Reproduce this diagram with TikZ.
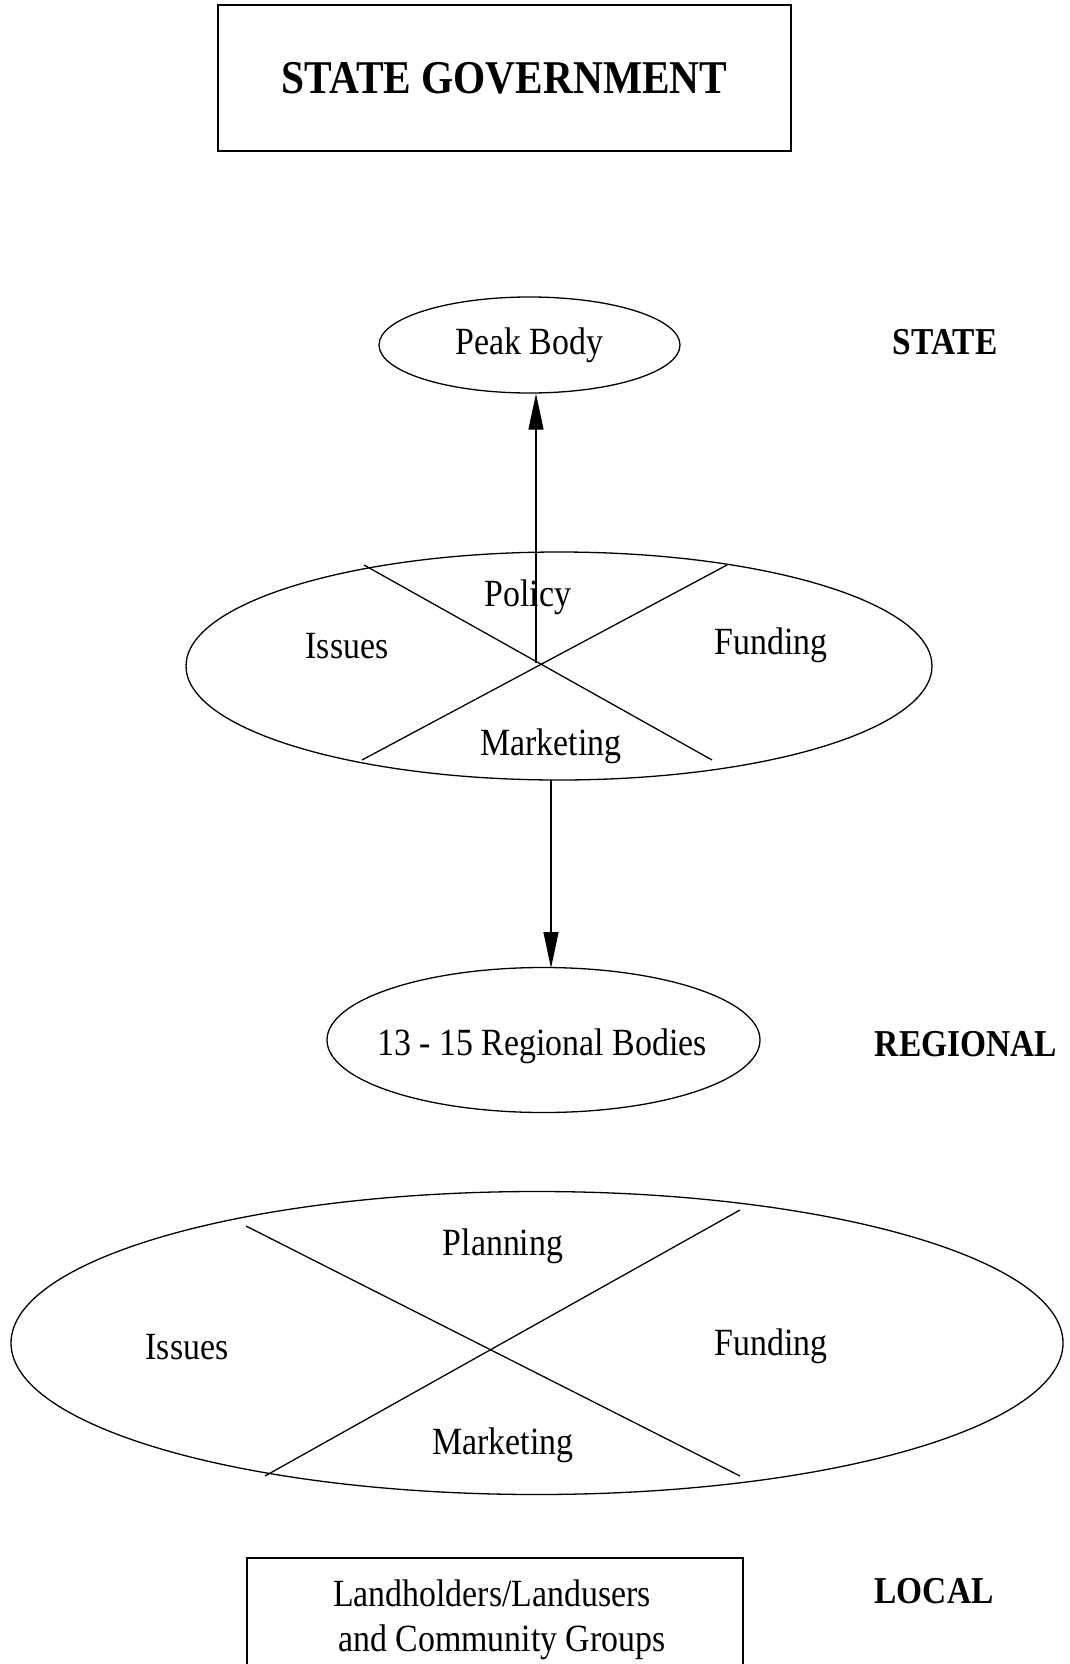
\documentclass[tikz,border=0pt]{standalone}
\usepackage{fontspec}
\setmainfont{Liberation Serif}[FakeStretch=0.88]
\usetikzlibrary{shapes.geometric,arrows.meta}
\begin{document}
\begin{tikzpicture}[x=1pt,y=-1pt,
  line width=1.3pt,
  ell/.style={draw,ellipse,inner sep=0pt},
  lbl/.style={font=\fontsize{38.5}{44}\selectfont,inner sep=0pt},
  blbl/.style={font=\fontsize{38}{44}\selectfont\bfseries,inner sep=0pt},
  arr/.style={-{Triangle[length=36pt,width=15pt]}}]
\useasboundingbox[fill=white] (0,0) rectangle (1069,1664);
% top box
\node[draw,minimum width=573pt,minimum height=146pt,inner sep=0pt,font=\fontsize{47}{52}\selectfont\bfseries] (gov) at (504.5,78) {STATE GOVERNMENT};
% peak body
\node[ell,minimum width=301pt,minimum height=96pt] (peak) at (529.5,345) {};
\node[lbl] (peakt) at (529.5,345) {Peak Body};
\node[blbl] (state) at (945,342) {STATE};
% upper ellipse
\node[ell,minimum width=746pt,minimum height=228pt] (up) at (559,666) {};
\coordinate (uc) at (536,663);
\draw (364,565) -- (712,760);
\draw (727,565) -- (362,760);
\node[lbl] (upol) at (528,597) {Policy};
\node[lbl] (uiss) at (347,646) {Issues};
\node[lbl] (ufun) at (771,645) {Funding};
\node[lbl] (umar) at (551,746) {Marketing};
\draw[arr] (uc) -- (peak.south -| uc);
% regional
\node[ell,minimum width=433pt,minimum height=145pt] (reg) at (543.5,1040) {};
\node[lbl] (regt) at (542,1046) {13 - 15 Regional Bodies};
\node[blbl] (regl) at (966,1044) {REGIONAL};
\coordinate (dtop) at (551,780);
\draw[arr] (dtop) -- (551,968);
% lower ellipse
\node[ell,minimum width=1052pt,minimum height=303pt] (low) at (537,1343) {};
\draw (246,1226) -- (740,1476);
\draw (740,1210) -- (265,1476);
\node[lbl] (lpla) at (503,1246) {Planning};
\node[lbl] (liss) at (187,1347) {Issues};
\node[lbl] (lfun) at (771,1346) {Funding};
\node[lbl] (lmar) at (503,1445) {Marketing};
% local box
\draw (247,1670) -- (247,1558) -- (743,1558) -- (743,1670);
\node[lbl] (loc1) at (492,1593) {Landholders/Landusers};
\node[lbl] (loc2) at (502,1642) {and Community Groups};
\node[blbl] (local) at (934,1591) {LOCAL};
\end{tikzpicture}
\end{document}
